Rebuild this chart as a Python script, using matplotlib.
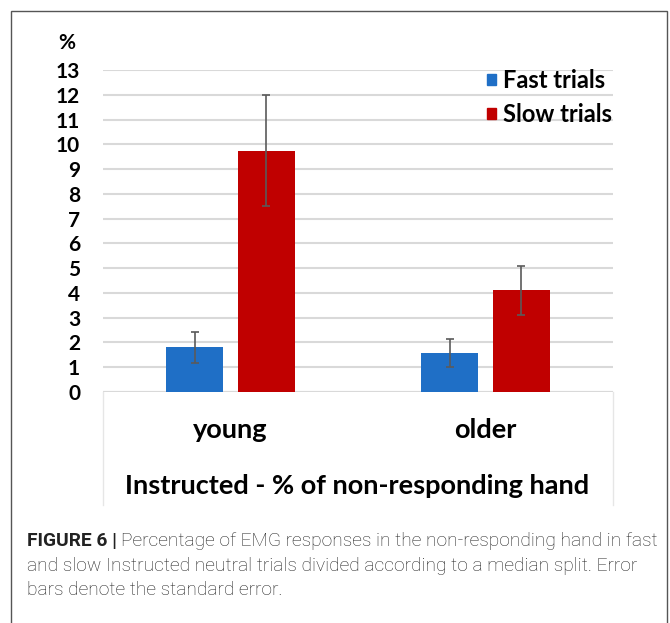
import matplotlib
matplotlib.use("Agg")
import matplotlib.pyplot as plt
from matplotlib.patches import Rectangle, Patch
import numpy as np

groups = ["young", "older"]
series = ["Fast trials", "Slow trials"]
fast = [1.8, 1.57]
slow = [9.75, 4.1]
fast_err = [0.62, 0.58]
slow_err = [2.25, 1.0]
yticks = list(range(0, 14))

blue = "#1f6fc6"
red = "#c00000"
chart_font = "Lato"

fig = plt.figure(figsize=(6.70, 6.23), dpi=100)
W, H = 670, 623

# outer frame around figure + caption
fig.patches.append(Rectangle((11 / W, -0.01), 656 / W, 1.01 - 11 / H,
                             transform=fig.transFigure, fill=False,
                             edgecolor="#555555", linewidth=1.0))

ax = fig.add_axes([103 / W, 1 - 392 / H, 510 / W, 322 / H])
x = np.arange(len(groups))
bw = 0.224
off = 0.14
ax.bar(x - off, fast, bw, color=blue, zorder=3)
ax.bar(x + off, slow, bw, color=red, zorder=3)
ax.errorbar(x - off, fast, yerr=fast_err, fmt="none", ecolor="#5a5a5a",
            elinewidth=1.2, capsize=3, capthick=1.2, zorder=4)
ax.errorbar(x + off, slow, yerr=slow_err, fmt="none", ecolor="#5a5a5a",
            elinewidth=1.2, capsize=3, capthick=1.2, zorder=4)

ax.set_xlim(-0.5, 1.5)
ax.set_ylim(0, 13)
ax.set_yticks(yticks)
ax.set_yticklabels([str(t) for t in yticks], fontfamily=chart_font,
                   fontweight="bold", fontsize=15)
ax.tick_params(axis="y", length=0, pad=16.5)
ax.tick_params(axis="x", length=0)
ax.set_xticks([])
ax.grid(axis="y", color="#d9d9d9", linewidth=1.5, zorder=0)
for s in ax.spines.values():
    s.set_visible(False)
ax.axhline(0, color="#d9d9d9", linewidth=1.5, zorder=2)

# category labels and axis title
for xi, g in zip(x, groups):
    ax.text(xi, -1.55, g, ha="center", va="center", fontfamily=chart_font,
            fontweight="bold", fontsize=19.5, transform=ax.transData, clip_on=False)
fig.text(357 / W, 1 - 486 / H, "Instructed - % of non-responding hand",
         ha="center", va="center", fontfamily=chart_font, fontweight="bold",
         fontsize=19.5)
fig.text(67 / W, 1 - 43 / H, "%", ha="center", va="center",
         fontfamily=chart_font, fontweight="bold", fontsize=15)

# light box around category area
for xx in (103 / W, 613 / W):
    fig.add_artist(plt.Line2D([xx, xx], [1 - 392 / H, 1 - 505 / H],
                              color="#e6e6e6", linewidth=1.0))

handles = [Patch(color=blue), Patch(color=red)]
leg = ax.legend(handles, series, loc="upper left",
                bbox_to_anchor=(466 / W, 1 - 48 / H),
                bbox_transform=fig.transFigure, frameon=False,
                handlelength=0.35, handleheight=0.35, handletextpad=0.3,
                labelspacing=0.44, borderpad=0.4,
                prop={"family": chart_font, "weight": "bold", "size": 17})

# caption
cap_font = "Roboto"
cap_size = 13.8
cap_color = "#222222"
fig.canvas.draw()
r = fig.canvas.get_renderer()
t1 = fig.text(27 / W, 1 - 541 / H, "FIGURE 6 |", ha="left", va="center",
              fontfamily=cap_font, fontweight="bold", fontsize=cap_size,
              color=cap_color)
bb = t1.get_window_extent(renderer=r)
fig.text(bb.x1 / W + 4 / W, 1 - 541 / H,
         "Percentage of EMG responses in the non-responding hand in fast",
         ha="left", va="center", fontfamily=cap_font, fontweight="light",
         fontsize=cap_size, color=cap_color)
fig.text(27 / W, 1 - 566 / H,
         "and slow Instructed neutral trials divided according to a median split. Error",
         ha="left", va="center", fontfamily=cap_font, fontweight="light",
         fontsize=cap_size, color=cap_color)
fig.text(27 / W, 1 - 590 / H, "bars denote the standard error.",
         ha="left", va="center", fontfamily=cap_font, fontweight="light",
         fontsize=cap_size, color=cap_color)

fig.savefig("out.png", dpi=100)
